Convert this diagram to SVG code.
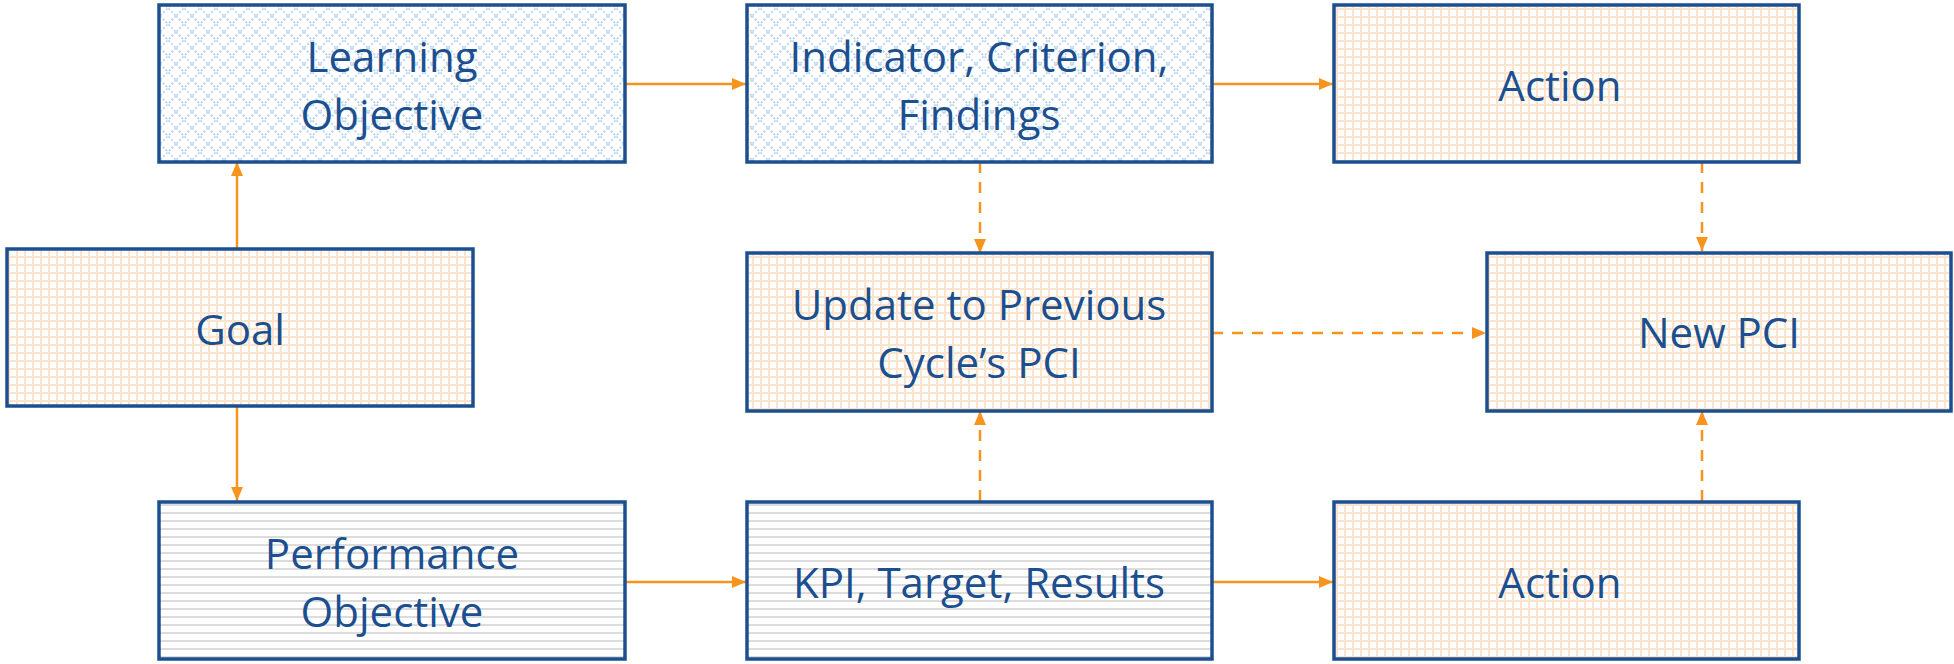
<svg xmlns="http://www.w3.org/2000/svg" width="1954" height="664" viewBox="0 0 1954 664">
<style>
.box{stroke:#1B4F8F;stroke-width:3.5}
.t{font-family:"Open Sans","Liberation Sans",sans-serif;font-size:42px;fill:#1B4F8F;text-anchor:middle}
.c{fill:none;stroke:#F7941D;stroke-width:2.5}
.d{stroke-dasharray:11 9}
</style>
<defs>
<pattern id="lat" width="16" height="16" patternUnits="userSpaceOnUse">
<rect width="16" height="16" fill="#fff"/>
<path d="M0 0L16 16M16 0L0 16" stroke="#BDD7EE" stroke-width="2" stroke-dasharray="2 2"/>
</pattern>
<pattern id="grid" width="8" height="8" patternUnits="userSpaceOnUse">
<rect width="8" height="8" fill="#fff"/>
<path d="M0 1H8M1 0V8" stroke="#FCE4CC" stroke-width="2.2"/>
</pattern>
<pattern id="hl" width="8" height="8" patternUnits="userSpaceOnUse">
<rect width="8" height="8" fill="#fff"/>
<path d="M0 1H8" stroke="#DCDCDC" stroke-width="2"/>
</pattern>
<marker id="ah" markerWidth="14" markerHeight="12" refX="14" refY="6" orient="auto" markerUnits="userSpaceOnUse">
<path d="M0 0L14 6L0 12Z" fill="#F7941D"/>
</marker>
</defs>
<g id="connectors">
<path class="c" d="M625 84H746" marker-end="url(#ah)"/>
<path class="c" d="M1212 84H1333" marker-end="url(#ah)"/>
<path class="c" d="M237 248V162" marker-end="url(#ah)"/>
<path class="c" d="M237 406V501" marker-end="url(#ah)"/>
<path class="c" d="M625 582H746" marker-end="url(#ah)"/>
<path class="c" d="M1212 582H1333" marker-end="url(#ah)"/>
<path class="c d" d="M980 162V253" marker-end="url(#ah)"/>
<path class="c d" d="M1702 162V251" marker-end="url(#ah)"/>
<path class="c d" d="M1212 333H1486" marker-end="url(#ah)"/>
<path class="c d" d="M980 501V411" marker-end="url(#ah)"/>
<path class="c d" d="M1702 501V411" marker-end="url(#ah)"/>
</g>
<g id="learning"><rect class="box" x="159" y="5" width="466" height="157" fill="url(#lat)"/><text class="t" x="392" y="72">Learning</text><text class="t" x="392" y="130">Objective</text></g>
<g id="indicator"><rect class="box" x="747" y="5" width="465" height="157" fill="url(#lat)"/><text class="t" x="979" y="72">Indicator, Criterion,</text><text class="t" x="979" y="130">Findings</text></g>
<g id="action-top"><rect class="box" x="1334" y="5" width="465" height="157" fill="url(#grid)"/><text class="t" x="1560" y="101">Action</text></g>
<g id="goal"><rect class="box" x="7" y="249" width="466" height="157" fill="url(#grid)"/><text class="t" x="240" y="345">Goal</text></g>
<g id="update"><rect class="box" x="747" y="253" width="465" height="158" fill="url(#grid)"/><text class="t" x="979" y="320">Update to Previous</text><text class="t" x="979" y="378">Cycle’s PCI</text></g>
<g id="newpci"><rect class="box" x="1487" y="253" width="464" height="158" fill="url(#grid)"/><text class="t" x="1719" y="348">New PCI</text></g>
<g id="performance"><rect class="box" x="159" y="502" width="466" height="157" fill="url(#hl)"/><text class="t" x="392" y="569">Performance</text><text class="t" x="392" y="627">Objective</text></g>
<g id="kpi"><rect class="box" x="747" y="502" width="465" height="157" fill="url(#hl)"/><text class="t" x="979" y="598">KPI, Target, Results</text></g>
<g id="action-bottom"><rect class="box" x="1334" y="502" width="465" height="157" fill="url(#grid)"/><text class="t" x="1560" y="598">Action</text></g>
</svg>
